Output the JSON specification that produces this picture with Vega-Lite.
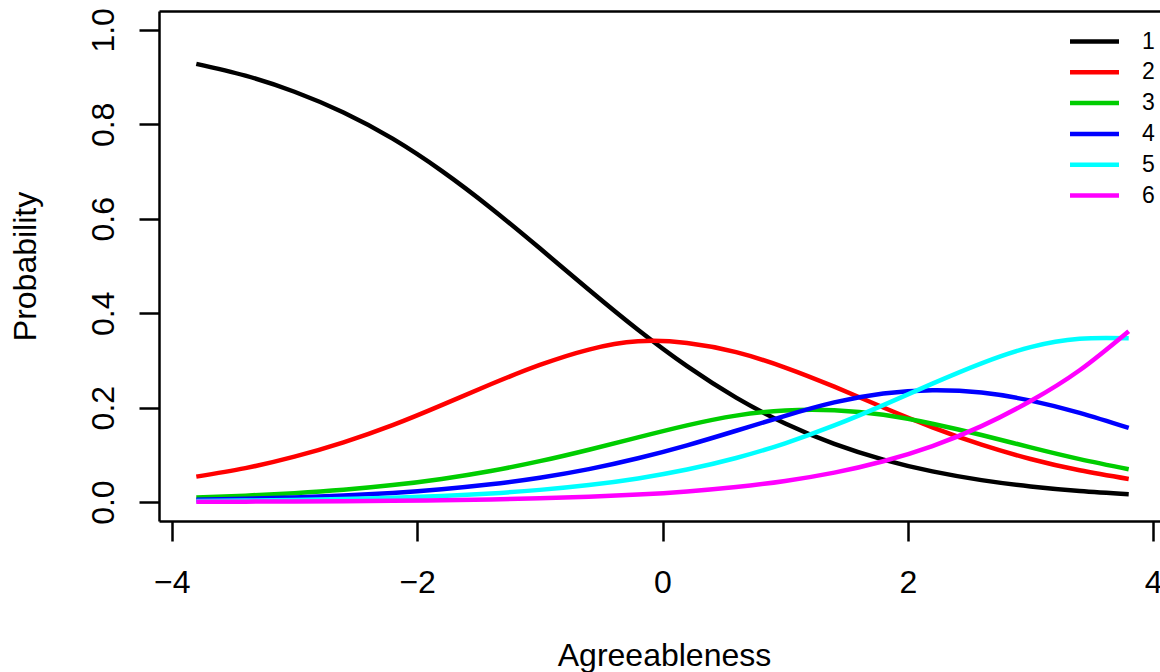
{
  "$schema": "https://vega.github.io/schema/vega-lite/v6.json",
  "width": 1001,
  "height": 510,
  "autosize": {"type": "none"},
  "padding": {"left": 159, "top": 11, "right": 0, "bottom": 151},
  "background": "white",
  "config": {
    "view": {"stroke": null},
    "font": "Liberation Sans",
    "axis": {
      "domainColor": "black", "domainWidth": 2.5,
      "tickColor": "black", "tickWidth": 2.5, "tickSize": 20,
      "labelFont": "Liberation Sans", "labelFontSize": 32, "labelColor": "black",
      "titleFont": "Liberation Sans", "titleFontSize": 32, "titleFontWeight": "normal", "titleColor": "black",
      "grid": false, "labelFlush": false, "labelOverlap": false
    }
  },
  "data": {
    "values": [
      {"x": -3.8, "k": "1", "p": 0.9280}, {"x": -3.8, "k": "2", "p": 0.0540}, {"x": -3.8, "k": "3", "p": 0.0100}, {"x": -3.8, "k": "4", "p": 0.0051}, {"x": -3.8, "k": "5", "p": 0.0023}, {"x": -3.8, "k": "6", "p": 0.0007},
      {"x": -3.4, "k": "1", "p": 0.9030}, {"x": -3.4, "k": "2", "p": 0.0720}, {"x": -3.4, "k": "3", "p": 0.0137}, {"x": -3.4, "k": "4", "p": 0.0071}, {"x": -3.4, "k": "5", "p": 0.0033}, {"x": -3.4, "k": "6", "p": 0.0010},
      {"x": -3.0, "k": "1", "p": 0.8690}, {"x": -3.0, "k": "2", "p": 0.0962}, {"x": -3.0, "k": "3", "p": 0.0190}, {"x": -3.0, "k": "4", "p": 0.0098}, {"x": -3.0, "k": "5", "p": 0.0046}, {"x": -3.0, "k": "6", "p": 0.0014},
      {"x": -2.6, "k": "1", "p": 0.8250}, {"x": -2.6, "k": "2", "p": 0.1266}, {"x": -2.6, "k": "3", "p": 0.0261}, {"x": -2.6, "k": "4", "p": 0.0139}, {"x": -2.6, "k": "5", "p": 0.0065}, {"x": -2.6, "k": "6", "p": 0.0020},
      {"x": -2.2, "k": "1", "p": 0.7696}, {"x": -2.2, "k": "2", "p": 0.1629}, {"x": -2.2, "k": "3", "p": 0.0360}, {"x": -2.2, "k": "4", "p": 0.0195}, {"x": -2.2, "k": "5", "p": 0.0093}, {"x": -2.2, "k": "6", "p": 0.0028},
      {"x": -1.8, "k": "1", "p": 0.7014}, {"x": -1.8, "k": "2", "p": 0.2053}, {"x": -1.8, "k": "3", "p": 0.0491}, {"x": -1.8, "k": "4", "p": 0.0272}, {"x": -1.8, "k": "5", "p": 0.0131}, {"x": -1.8, "k": "6", "p": 0.0040},
      {"x": -1.4, "k": "1", "p": 0.6229}, {"x": -1.4, "k": "2", "p": 0.2495}, {"x": -1.4, "k": "3", "p": 0.0659}, {"x": -1.4, "k": "4", "p": 0.0376}, {"x": -1.4, "k": "5", "p": 0.0184}, {"x": -1.4, "k": "6", "p": 0.0056},
      {"x": -1.0, "k": "1", "p": 0.5374}, {"x": -1.0, "k": "2", "p": 0.2904}, {"x": -1.0, "k": "3", "p": 0.0867}, {"x": -1.0, "k": "4", "p": 0.0516}, {"x": -1.0, "k": "5", "p": 0.0259}, {"x": -1.0, "k": "6", "p": 0.0080},
      {"x": -0.6, "k": "1", "p": 0.4497}, {"x": -0.6, "k": "2", "p": 0.3230}, {"x": -0.6, "k": "3", "p": 0.1110}, {"x": -0.6, "k": "4", "p": 0.0698}, {"x": -0.6, "k": "5", "p": 0.0362}, {"x": -0.6, "k": "6", "p": 0.0113},
      {"x": -0.2, "k": "1", "p": 0.3649}, {"x": -0.2, "k": "2", "p": 0.3405}, {"x": -0.2, "k": "3", "p": 0.1371}, {"x": -0.2, "k": "4", "p": 0.0928}, {"x": -0.2, "k": "5", "p": 0.0502}, {"x": -0.2, "k": "6", "p": 0.0161},
      {"x": 0.2, "k": "1", "p": 0.2878}, {"x": 0.2, "k": "2", "p": 0.3370}, {"x": 0.2, "k": "3", "p": 0.1625}, {"x": 0.2, "k": "4", "p": 0.1202}, {"x": 0.2, "k": "5", "p": 0.0690}, {"x": 0.2, "k": "6", "p": 0.0227},
      {"x": 0.6, "k": "1", "p": 0.2213}, {"x": 0.6, "k": "2", "p": 0.3175}, {"x": 0.6, "k": "3", "p": 0.1831}, {"x": 0.6, "k": "4", "p": 0.1511}, {"x": 0.6, "k": "5", "p": 0.0935}, {"x": 0.6, "k": "6", "p": 0.0319},
      {"x": 1.0, "k": "1", "p": 0.1666}, {"x": 1.0, "k": "2", "p": 0.2850}, {"x": 1.0, "k": "3", "p": 0.1940}, {"x": 1.0, "k": "4", "p": 0.1827}, {"x": 1.0, "k": "5", "p": 0.1246}, {"x": 1.0, "k": "6", "p": 0.0448},
      {"x": 1.4, "k": "1", "p": 0.1233}, {"x": 1.4, "k": "2", "p": 0.2444}, {"x": 1.4, "k": "3", "p": 0.1945}, {"x": 1.4, "k": "4", "p": 0.2111}, {"x": 1.4, "k": "5", "p": 0.1623}, {"x": 1.4, "k": "6", "p": 0.0625},
      {"x": 1.8, "k": "1", "p": 0.0900}, {"x": 1.8, "k": "2", "p": 0.2003}, {"x": 1.8, "k": "3", "p": 0.1850}, {"x": 1.8, "k": "4", "p": 0.2300}, {"x": 1.8, "k": "5", "p": 0.2054}, {"x": 1.8, "k": "6", "p": 0.0866},
      {"x": 2.2, "k": "1", "p": 0.0650}, {"x": 2.2, "k": "2", "p": 0.1584}, {"x": 2.2, "k": "3", "p": 0.1660}, {"x": 2.2, "k": "4", "p": 0.2370}, {"x": 2.2, "k": "5", "p": 0.2508}, {"x": 2.2, "k": "6", "p": 0.1188},
      {"x": 2.6, "k": "1", "p": 0.0466}, {"x": 2.6, "k": "2", "p": 0.1217}, {"x": 2.6, "k": "3", "p": 0.1421}, {"x": 2.6, "k": "4", "p": 0.2320}, {"x": 2.6, "k": "5", "p": 0.2938}, {"x": 2.6, "k": "6", "p": 0.1609},
      {"x": 3.0, "k": "1", "p": 0.0332}, {"x": 3.0, "k": "2", "p": 0.0914}, {"x": 3.0, "k": "3", "p": 0.1159}, {"x": 3.0, "k": "4", "p": 0.2150}, {"x": 3.0, "k": "5", "p": 0.3283}, {"x": 3.0, "k": "6", "p": 0.2142},
      {"x": 3.4, "k": "1", "p": 0.0236}, {"x": 3.4, "k": "2", "p": 0.0674}, {"x": 3.4, "k": "3", "p": 0.0911}, {"x": 3.4, "k": "4", "p": 0.1890}, {"x": 3.4, "k": "5", "p": 0.3460}, {"x": 3.4, "k": "6", "p": 0.2793},
      {"x": 3.8, "k": "1", "p": 0.0167}, {"x": 3.8, "k": "2", "p": 0.0490}, {"x": 3.8, "k": "3", "p": 0.0697}, {"x": 3.8, "k": "4", "p": 0.1570}, {"x": 3.8, "k": "5", "p": 0.3470}, {"x": 3.8, "k": "6", "p": 0.3620}
    ]
  },
  "layer": [
    {
      "mark": {"type": "line", "strokeWidth": 4.5, "interpolate": "natural"},
      "encoding": {
        "x": {
          "field": "x", "type": "quantitative",
          "scale": {"domain": [-4.104, 4.055], "nice": false, "zero": false},
          "axis": {"orient": "bottom", "values": [-4, -2, 0, 2, 4], "title": "Agreeableness",
                   "labelPadding": 26, "titleBaseline": "alphabetic", "titleX": 505, "titleY": 144}
        },
        "y": {
          "field": "p", "type": "quantitative",
          "scale": {"domain": [-0.04, 1.04], "nice": false, "zero": false},
          "axis": {"orient": "left", "values": [0, 0.2, 0.4, 0.6, 0.8, 1.0], "format": ".1f", "title": "Probability",
                   "labelAngle": -90, "labelAlign": "center", "labelBaseline": "alphabetic", "labelPadding": 26,
                   "titleAngle": 270, "titleBaseline": "alphabetic", "titleX": -124}
        },
        "color": {
          "field": "k", "type": "nominal",
          "scale": {"domain": ["1", "2", "3", "4", "5", "6"], "range": ["#000000", "#FF0000", "#00CD00", "#0000FF", "#00FFFF", "#FF00FF"]},
          "legend": {"orient": "none", "legendX": 921, "legendY": 16, "title": null, "padding": 0,
                     "symbolType": "M-2,0H2", "symbolSize": 600, "symbolStrokeWidth": 4.5,
                     "labelFont": "Liberation Sans", "labelFontSize": 23, "labelColor": "black", "labelOffset": 33,
                     "rowPadding": 3.8}
        }
      }
    },
    {
      "mark": {"type": "point", "opacity": 0},
      "encoding": {
        "x": {"field": "x", "type": "quantitative",
              "axis": {"orient": "top", "labels": false, "ticks": false, "title": null, "domain": true}}
      }
    }
  ]
}
